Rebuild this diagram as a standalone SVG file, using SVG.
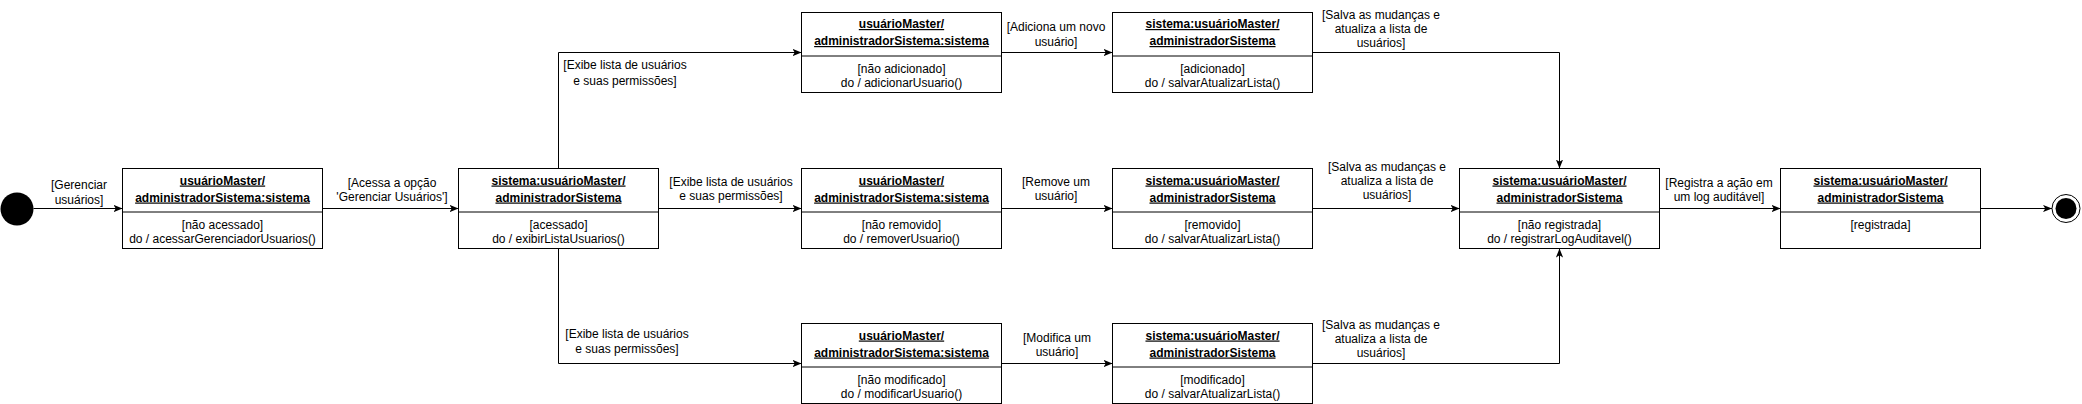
<svg xmlns="http://www.w3.org/2000/svg" width="2082" height="404" viewBox="0 0 2082 404">
<defs>
<style>
.box{fill:#fff;stroke:#000;stroke-width:1}
.div{stroke:#000;stroke-width:1}
.t{font-family:"Liberation Sans",Arial,Helvetica,sans-serif;font-size:12px;fill:#000;text-anchor:middle}
.b{font-weight:bold;text-decoration:underline}
.e{fill:none;stroke:#000;stroke-width:1;marker-end:url(#arr)}
</style>
<marker id="arr" markerUnits="userSpaceOnUse" viewBox="0 0 10 8" markerWidth="9" markerHeight="7.2" refX="10" refY="4" orient="auto">
<path d="M0,0 L10,4 L0,8 L2.5,4 Z" fill="#000"/>
</marker>
</defs>
<rect width="2082" height="404" fill="#fff"/>

<g id="connectors">
<path class="e" d="M33.5,208.5 H122.5"/>
<text class="t" x="79" y="189">[Gerenciar</text>
<text class="t" x="79" y="204">usuários]</text>

<path class="e" d="M322.5,208.5 H458.5"/>
<text class="t" x="392" y="187">[Acessa a opção</text>
<text class="t" x="392" y="201">'Gerenciar Usuários']</text>

<path class="e" d="M658.5,208.5 H801.5"/>
<text class="t" x="731" y="186">[Exibe lista de usuários</text>
<text class="t" x="731" y="200">e suas permissões]</text>

<path class="e" d="M558.5,168.5 V52.5 H801.5"/>
<text class="t" x="625" y="69">[Exibe lista de usuários</text>
<text class="t" x="625" y="85">e suas permissões]</text>

<path class="e" d="M558.5,248.5 V363.5 H801.5"/>
<text class="t" x="627" y="338">[Exibe lista de usuários</text>
<text class="t" x="627" y="353">e suas permissões]</text>

<path class="e" d="M1001.5,52.5 H1112.5"/>
<text class="t" x="1056" y="31">[Adiciona um novo</text>
<text class="t" x="1056" y="46">usuário]</text>

<path class="e" d="M1001.5,208.5 H1112.5"/>
<text class="t" x="1056" y="186">[Remove um</text>
<text class="t" x="1056" y="200">usuário]</text>

<path class="e" d="M1001.5,363.5 H1112.5"/>
<text class="t" x="1057" y="342">[Modifica um</text>
<text class="t" x="1057" y="356">usuário]</text>

<path class="e" d="M1312.5,52.5 H1559.5 V168.5"/>
<text class="t" x="1381" y="19">[Salva as mudanças e</text>
<text class="t" x="1381" y="33">atualiza a lista de</text>
<text class="t" x="1381" y="47">usuários]</text>

<path class="e" d="M1312.5,208.5 H1459.5"/>
<text class="t" x="1387" y="171">[Salva as mudanças e</text>
<text class="t" x="1387" y="185">atualiza a lista de</text>
<text class="t" x="1387" y="199">usuários]</text>

<path class="e" d="M1312.5,363.5 H1559.5 V248.5"/>
<text class="t" x="1381" y="329">[Salva as mudanças e</text>
<text class="t" x="1381" y="343">atualiza a lista de</text>
<text class="t" x="1381" y="357">usuários]</text>

<path class="e" d="M1659.5,208.5 H1780.5"/>
<text class="t" x="1719" y="187">[Registra a ação em</text>
<text class="t" x="1719" y="201">um log auditável]</text>

<path class="e" d="M1980.5,208.5 H2052"/>
</g>

<g id="start">
<circle cx="17" cy="209" r="16.5" fill="#000"/>
</g>

<g id="n1">
<rect class="box" x="122.5" y="168.5" width="200" height="80"/>
<line class="div" x1="122.5" y1="212" x2="322.5" y2="212"/>
<text class="t b" x="222.5" y="184.5">usuárioMaster/</text>
<text class="t b" x="222.5" y="201.5">administradorSistema:sistema</text>
<text class="t" x="222.5" y="228.5">[não acessado]</text>
<text class="t" x="222.5" y="242.5">do / acessarGerenciadorUsuarios()</text>
</g>

<g id="n2">
<rect class="box" x="458.5" y="168.5" width="200" height="80"/>
<line class="div" x1="458.5" y1="212" x2="658.5" y2="212"/>
<text class="t b" x="558.5" y="184.5">sistema:usuárioMaster/</text>
<text class="t b" x="558.5" y="201.5">administradorSistema</text>
<text class="t" x="558.5" y="228.5">[acessado]</text>
<text class="t" x="558.5" y="242.5">do / exibirListaUsuarios()</text>
</g>

<g id="n3a">
<rect class="box" x="801.5" y="12.5" width="200" height="80"/>
<line class="div" x1="801.5" y1="56" x2="1001.5" y2="56"/>
<text class="t b" x="901.5" y="28">usuárioMaster/</text>
<text class="t b" x="901.5" y="45">administradorSistema:sistema</text>
<text class="t" x="901.5" y="72.5">[não adicionado]</text>
<text class="t" x="901.5" y="86.5">do / adicionarUsuario()</text>
</g>

<g id="n4a">
<rect class="box" x="1112.5" y="12.5" width="200" height="80"/>
<line class="div" x1="1112.5" y1="56" x2="1312.5" y2="56"/>
<text class="t b" x="1212.5" y="28">sistema:usuárioMaster/</text>
<text class="t b" x="1212.5" y="45">administradorSistema</text>
<text class="t" x="1212.5" y="72.5">[adicionado]</text>
<text class="t" x="1212.5" y="86.5">do / salvarAtualizarLista()</text>
</g>

<g id="n3b">
<rect class="box" x="801.5" y="168.5" width="200" height="80"/>
<line class="div" x1="801.5" y1="212" x2="1001.5" y2="212"/>
<text class="t b" x="901.5" y="184.5">usuárioMaster/</text>
<text class="t b" x="901.5" y="201.5">administradorSistema:sistema</text>
<text class="t" x="901.5" y="228.5">[não removido]</text>
<text class="t" x="901.5" y="242.5">do / removerUsuario()</text>
</g>

<g id="n4b">
<rect class="box" x="1112.5" y="168.5" width="200" height="80"/>
<line class="div" x1="1112.5" y1="212" x2="1312.5" y2="212"/>
<text class="t b" x="1212.5" y="184.5">sistema:usuárioMaster/</text>
<text class="t b" x="1212.5" y="201.5">administradorSistema</text>
<text class="t" x="1212.5" y="228.5">[removido]</text>
<text class="t" x="1212.5" y="242.5">do / salvarAtualizarLista()</text>
</g>

<g id="n3c">
<rect class="box" x="801.5" y="323.5" width="200" height="80"/>
<line class="div" x1="801.5" y1="367" x2="1001.5" y2="367"/>
<text class="t b" x="901.5" y="339.5">usuárioMaster/</text>
<text class="t b" x="901.5" y="356.5">administradorSistema:sistema</text>
<text class="t" x="901.5" y="383.5">[não modificado]</text>
<text class="t" x="901.5" y="397.5">do / modificarUsuario()</text>
</g>

<g id="n4c">
<rect class="box" x="1112.5" y="323.5" width="200" height="80"/>
<line class="div" x1="1112.5" y1="367" x2="1312.5" y2="367"/>
<text class="t b" x="1212.5" y="339.5">sistema:usuárioMaster/</text>
<text class="t b" x="1212.5" y="356.5">administradorSistema</text>
<text class="t" x="1212.5" y="383.5">[modificado]</text>
<text class="t" x="1212.5" y="397.5">do / salvarAtualizarLista()</text>
</g>

<g id="n5">
<rect class="box" x="1459.5" y="168.5" width="200" height="80"/>
<line class="div" x1="1459.5" y1="212" x2="1659.5" y2="212"/>
<text class="t b" x="1559.5" y="184.5">sistema:usuárioMaster/</text>
<text class="t b" x="1559.5" y="201.5">administradorSistema</text>
<text class="t" x="1559.5" y="228.5">[não registrada]</text>
<text class="t" x="1559.5" y="242.5">do / registrarLogAuditavel()</text>
</g>

<g id="n6">
<rect class="box" x="1780.5" y="168.5" width="200" height="80"/>
<line class="div" x1="1780.5" y1="212" x2="1980.5" y2="212"/>
<text class="t b" x="1880.5" y="184.5">sistema:usuárioMaster/</text>
<text class="t b" x="1880.5" y="201.5">administradorSistema</text>
<text class="t" x="1880.5" y="228.5">[registrada]</text>
</g>

<g id="end">
<circle cx="2066" cy="208.5" r="14" fill="#fff" stroke="#000" stroke-width="1"/>
<circle cx="2066" cy="208.5" r="10.5" fill="#000"/>
</g>
</svg>
